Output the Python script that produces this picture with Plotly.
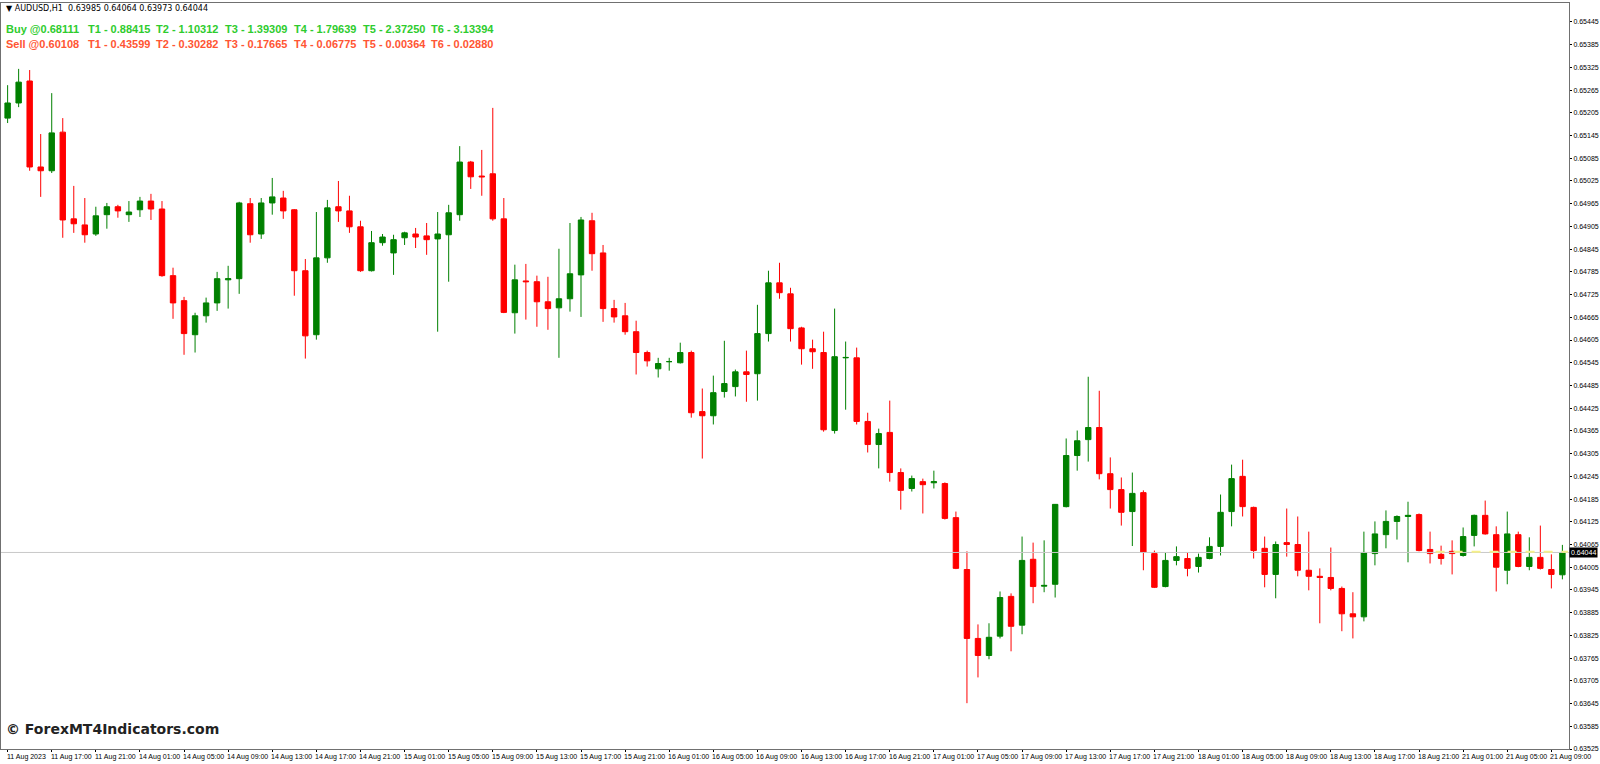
import plotly.graph_objects as go
from datetime import datetime, timedelta

opens = [0.65191,0.65231,0.65289,0.65062,0.65052,0.65154,0.64925,0.64909,0.64885,0.64936,
0.64957,0.64936,0.64949,0.64972,0.64951,0.64775,0.64709,0.64619,0.64669,0.64703,
0.64764,0.64767,0.64965,0.64885,0.64967,0.64980,0.64949,0.64788,0.64619,0.64822,
0.64957,0.64946,0.64904,0.64788,0.64862,0.64835,0.64875,0.64885,0.64880,0.64872,
0.64883,0.64936,0.65075,0.65038,0.65044,0.64925,0.64677,0.64761,0.64759,0.64706,
0.64690,0.64714,0.64777,0.64920,0.64835,0.64688,0.64669,0.64627,0.64572,0.64529,
0.64548,0.64545,0.64572,0.64416,0.64405,0.64469,0.64482,0.64521,0.64516,0.64622,
0.64756,0.64727,0.64637,0.64582,0.64572,0.64366,0.64558,0.64558,0.64390,0.64329,
0.64361,0.64255,0.64213,0.64231,0.64228,0.64226,0.64136,0.63999,0.63817,0.63772,
0.63823,0.63928,0.63852,0.64026,0.63955,0.63960,0.64165,0.64300,0.64342,0.64374,
0.64252,0.64210,0.64152,0.64202,0.64041,0.63954,0.64023,0.64028,0.64007,0.64028,
0.64060,0.64152,0.64245,0.64163,0.64055,0.63986,0.64070,0.64065,0.63997,0.63981,
0.63978,0.63949,0.63882,0.63874,0.64041,0.64091,0.64126,0.64139,0.64144,0.64052,
0.64039,0.64047,0.64036,0.64089,0.64142,0.64091,0.63997,0.64091,0.64007,0.64031,
0.63999,0.63985]
highs = [0.65278,0.65321,0.65318,0.65149,0.65257,0.65191,0.65012,0.64980,0.64957,0.64967,
0.64962,0.64972,0.64983,0.64991,0.64972,0.64796,0.64719,0.64677,0.64717,0.64785,
0.64801,0.64970,0.64980,0.64980,0.65033,0.64999,0.64951,0.64819,0.64943,0.64975,
0.65025,0.64986,0.64920,0.64893,0.64885,0.64883,0.64891,0.64901,0.64914,0.64943,
0.64962,0.65117,0.65078,0.65107,0.65218,0.64980,0.64804,0.64806,0.64775,0.64772,
0.64846,0.64914,0.64930,0.64941,0.64856,0.64711,0.64703,0.64656,0.64577,0.64558,
0.64558,0.64598,0.64577,0.64477,0.64511,0.64603,0.64527,0.64577,0.64698,0.64788,
0.64809,0.64743,0.64640,0.64606,0.64627,0.64688,0.64601,0.64585,0.64413,0.64371,
0.64445,0.64266,0.64247,0.64239,0.64260,0.64229,0.64152,0.64047,0.63854,0.63857,
0.63941,0.63936,0.64086,0.64070,0.64076,0.64172,0.64345,0.64366,0.64508,0.64471,
0.64295,0.64242,0.64255,0.64208,0.64049,0.64044,0.64060,0.64044,0.64041,0.64084,
0.64197,0.64276,0.64289,0.64165,0.64086,0.64073,0.64160,0.64139,0.64099,0.64002,
0.64057,0.63954,0.63939,0.64099,0.64126,0.64155,0.64142,0.64178,0.64147,0.64099,
0.64062,0.64076,0.64110,0.64144,0.64181,0.64113,0.64152,0.64099,0.64084,0.64115,
0.64039,0.64064]
lows = [0.65178,0.65220,0.65052,0.64983,0.65046,0.64875,0.64888,0.64862,0.64880,0.64899,
0.64928,0.64917,0.64930,0.64922,0.64772,0.64661,0.64566,0.64572,0.64651,0.64682,
0.64688,0.64727,0.64862,0.64872,0.64936,0.64925,0.64722,0.64556,0.64606,0.64809,
0.64917,0.64888,0.64785,0.64786,0.64854,0.64777,0.64856,0.64848,0.64830,0.64627,
0.64759,0.64920,0.65004,0.64986,0.64920,0.64676,0.64622,0.64659,0.64640,0.64632,
0.64558,0.64680,0.64666,0.64788,0.64653,0.64651,0.64619,0.64514,0.64535,0.64506,
0.64524,0.64543,0.64400,0.64292,0.64382,0.64453,0.64456,0.64442,0.64445,0.64601,
0.64714,0.64601,0.64540,0.64529,0.64363,0.64358,0.64421,0.64382,0.64308,0.64266,
0.64231,0.64157,0.64205,0.64147,0.64213,0.64131,0.64000,0.63646,0.63714,0.63762,
0.63817,0.63783,0.63828,0.63910,0.63939,0.63925,0.64163,0.64260,0.64284,0.64237,
0.64160,0.64115,0.64061,0.63997,0.63950,0.63952,0.64010,0.63981,0.63991,0.64026,
0.64036,0.64113,0.64139,0.64028,0.63952,0.63923,0.64033,0.63981,0.63944,0.63857,
0.63944,0.63836,0.63817,0.63862,0.64010,0.64055,0.64078,0.64018,0.64047,0.64015,
0.64012,0.63986,0.64033,0.64060,0.64091,0.63941,0.63960,0.64005,0.63997,0.63999,
0.63949,0.63973]
closes = [0.65231,0.65286,0.65062,0.65052,0.65152,0.64922,0.64912,0.64883,0.64933,0.64957,
0.64946,0.64943,0.64972,0.64951,0.64775,0.64703,0.64622,0.64669,0.64703,0.64767,
0.64767,0.64967,0.64883,0.64967,0.64983,0.64946,0.64788,0.64616,0.64822,0.64954,
0.64946,0.64904,0.64788,0.64862,0.64877,0.64870,0.64888,0.64877,0.64870,0.64885,
0.64941,0.65075,0.65036,0.65036,0.64925,0.64678,0.64764,0.64759,0.64706,0.64688,
0.64714,0.64780,0.64922,0.64833,0.64688,0.64666,0.64627,0.64572,0.64550,0.64543,
0.64548,0.64572,0.64413,0.64405,0.64466,0.64490,0.64521,0.64514,0.64622,0.64756,
0.64730,0.64635,0.64582,0.64574,0.64368,0.64561,0.64559,0.64390,0.64329,0.64358,
0.64255,0.64208,0.64239,0.64223,0.64231,0.64134,0.64002,0.63817,0.63772,0.63820,
0.63925,0.63849,0.64023,0.63954,0.63957,0.64171,0.64300,0.64339,0.64374,0.64252,
0.64210,0.64150,0.64200,0.64044,0.63952,0.64023,0.64033,0.64002,0.64031,0.64060,
0.64150,0.64239,0.64165,0.64049,0.63986,0.64065,0.64065,0.63997,0.63981,0.63978,
0.63949,0.63882,0.63874,0.64044,0.64093,0.64126,0.64139,0.64142,0.64049,0.64041,
0.64028,0.64041,0.64086,0.64142,0.64093,0.64005,0.64093,0.64007,0.64031,0.64002,
0.63986,0.64044]

price_ticks = [0.63525 + 0.0006 * k for k in range(33)]
buy_labels = ["Buy @0.68111", "T1 - 0.88415", "T2 - 1.10312", "T3 - 1.39309",
              "T4 - 1.79639", "T5 - 2.37250", "T6 - 3.13394"]
sell_labels = ["Sell @0.60108", "T1 - 0.43599", "T2 - 0.30282", "T3 - 0.17665",
               "T4 - 0.06775", "T5 - 0.00364", "T6 - 0.02880"]
label_x_px = [4, 86, 154, 223, 292, 361, 429]
current_price = 0.64044

times = []
t = datetime(2023, 8, 11, 13)
for i in range(len(opens)):
    times.append(t)
    t += timedelta(hours=1)
    if t == datetime(2023, 8, 12, 0):
        t = datetime(2023, 8, 14, 0)
    if t == datetime(2023, 8, 19, 0):
        t = datetime(2023, 8, 21, 0)
idx = list(range(len(opens)))
tickvals = idx[::4]
ticktext = [times[0].strftime("%d %b %Y")] + [times[i].strftime("%d %b %H:%M") for i in tickvals[1:]]

fig = go.Figure()
fig.add_trace(go.Candlestick(
    x=idx, open=opens, high=highs, low=lows, close=closes,
    increasing=dict(line=dict(color="#008000", width=1), fillcolor="#008000"),
    decreasing=dict(line=dict(color="#FF0000", width=1), fillcolor="#FF0000"),
    whiskerwidth=0, showlegend=False, hoverinfo="skip"))

fig.add_shape(type="line", xref="paper", x0=0, x1=1, y0=current_price, y1=current_price,
              line=dict(color="#C8C8C8", width=1))
fig.add_shape(type="line", x0=129.5, x1=141.5, y0=current_price + 0.00002, y1=current_price + 0.00002,
              line=dict(color="#F5F08A", width=2, dash="dash"))

L, R, T, B = 1, 31, 3, 15
W = 1600.0 - L - R
H = 764.0 - T - B
def px_x(px):
    return (px - L) / W
def px_y(py):
    return 1 - (py - T) / H

annotations = [dict(text="▼ AUDUSD,H1  0.63985 0.64064 0.63973 0.64044", x=px_x(4), y=px_y(8),
                    xref="paper", yref="paper", xanchor="left", yanchor="middle", showarrow=False,
                    font=dict(size=8, color="black", family="DejaVu Sans"))]
for lab, px in zip(buy_labels, label_x_px):
    annotations.append(dict(text="<b>%s</b>" % lab, x=px_x(px), y=px_y(29), xref="paper", yref="paper",
                            xanchor="left", yanchor="middle", showarrow=False,
                            font=dict(size=11, color="#2ECC2E", family="Liberation Sans")))
for lab, px in zip(sell_labels, label_x_px):
    annotations.append(dict(text="<b>%s</b>" % lab, x=px_x(px), y=px_y(44), xref="paper", yref="paper",
                            xanchor="left", yanchor="middle", showarrow=False,
                            font=dict(size=11, color="#FF5533", family="Liberation Sans")))
annotations.append(dict(text="<b>© ForexMT4Indicators.com</b>", x=px_x(4), y=px_y(729), xref="paper", yref="paper",
                        xanchor="left", yanchor="middle", showarrow=False,
                        font=dict(size=14, color="#222222", family="DejaVu Sans")))
annotations.append(dict(text="0.64044", x=1.0, y=current_price, xref="paper", yref="y",
                        xanchor="left", yanchor="middle", showarrow=False, bgcolor="black",
                        font=dict(size=7, color="white", family="Liberation Sans"), borderpad=1))
for tv, tt in zip(tickvals, ticktext):
    annotations.append(dict(text=tt, x=tv, y=0, xref="x", yref="paper",
                            xanchor="left", yanchor="top", xshift=-3, yshift=-2, showarrow=False,
                            font=dict(size=7, color="black", family="Liberation Sans")))

fig.update_layout(
    width=1600, height=764, paper_bgcolor="white", plot_bgcolor="white",
    margin=dict(l=L, r=R, t=T, b=B, autoexpand=False),
    annotations=annotations,
    xaxis=dict(range=[-0.6, len(opens) - 0.4], tickvals=tickvals, showticklabels=False,
               showgrid=False, rangeslider=dict(visible=False), ticks="outside", ticklen=2,
               tickcolor="black", showline=True, linecolor="#707070", mirror=True,
               automargin=False, zeroline=False),
    yaxis=dict(side="right", range=[0.63525, 0.65495], tickvals=price_ticks,
               ticktext=["%.5f" % v for v in price_ticks],
               tickfont=dict(size=7, color="black", family="Liberation Sans"), showgrid=False,
               ticks="outside", ticklen=2, tickcolor="black",
               showline=True, linecolor="#707070", mirror=True, automargin=False, zeroline=False),
)
fig.write_html("out.html", config={"displayModeBar": False},
               post_script="document.body.style.margin='0';document.body.style.overflow='hidden';")
